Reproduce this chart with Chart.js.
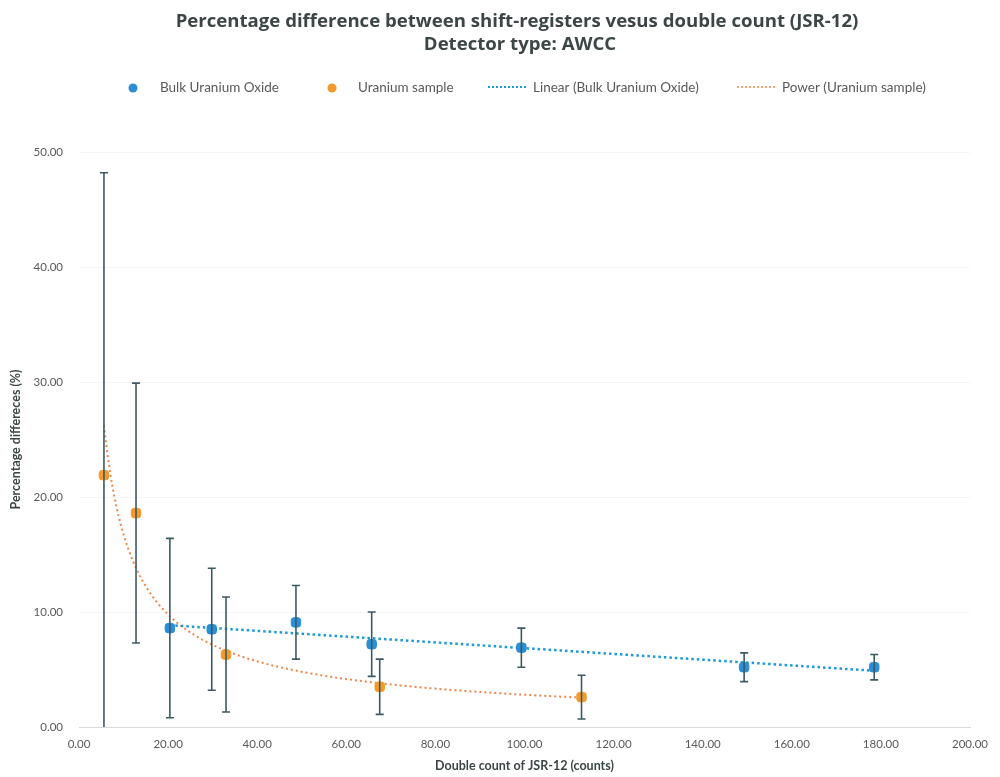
<!DOCTYPE html>
<html>
<head>
<meta charset="utf-8">
<title>Shift-register percentage difference</title>
<script src="https://cdn.jsdelivr.net/npm/chart.js@4.4.1/dist/chart.umd.min.js"></script>
<style>
  html, body { margin: 0; padding: 0; background: #ffffff; }
  #wrap { width: 1000px; height: 777px; position: relative; }
</style>
</head>
<body>
<div id="wrap"><canvas id="chart" width="1000" height="777"></canvas></div>
<script>
// Bulk uranium oxide measurements: double count vs. % difference, with ± error
const bulkX = [20.4, 29.8, 48.7, 65.7, 99.3, 149.3, 178.5];
const bulkY = [8.6, 8.5, 9.1, 7.2, 6.9, 5.2, 5.2];
const bulkErr = [7.8, 5.3, 3.2, 2.8, 1.7, 1.25, 1.1];

// Uranium sample measurements
const sampleX = [5.6, 12.8, 33.0, 67.5, 112.8];
const sampleY = [21.9, 18.6, 6.3, 3.5, 2.6];
const sampleErr = [26.3, 11.3, 5.0, 2.4, 1.9];

const seriesNames = ['Bulk Uranium Oxide', 'Uranium sample', 'Linear (Bulk Uranium Oxide)', 'Power (Uranium sample)'];
const titleLines = ['Percentage difference between shift-registers vesus double count (JSR-12)', 'Detector type: AWCC'];
const xTitle = 'Double count of JSR-12 (counts)';
const yTitle = 'Percentage differeces (%)';

const BLUE = '#2a8fd6';
const ORANGE = '#f39a2e';
const BLUE_TREND = '#1b9bd3';
const ORANGE_TREND = '#f0864a';
const ERR = '#3d5a60';
const TEXT = '#595959';
const TITLE_TEXT = '#3c4646';
const FONT = 'Lato, "Open Sans", sans-serif';
const TITLE_FONT = '"Open Sans", Lato, sans-serif';

const pts = (xs, ys) => xs.map((v, i) => ({ x: v, y: ys[i] }));

// Least-squares straight line
function linearFit(xs, ys) {
  const n = xs.length;
  const mx = xs.reduce((a, b) => a + b, 0) / n;
  const my = ys.reduce((a, b) => a + b, 0) / n;
  let sxy = 0, sxx = 0;
  for (let i = 0; i < n; i++) { sxy += (xs[i] - mx) * (ys[i] - my); sxx += (xs[i] - mx) ** 2; }
  const m = sxy / sxx;
  return v => my + m * (v - mx);
}

// Power-law fit y = a * x^k, done in log-log space
function powerFit(xs, ys) {
  const lx = xs.map(Math.log), ly = ys.map(Math.log);
  const line = linearFit(lx, ly);
  return v => Math.exp(line(Math.log(v)));
}

const linTrend = linearFit(bulkX, bulkY);
const powTrend = powerFit(sampleX, sampleY);

const bxMin = Math.min(...bulkX), bxMax = Math.max(...bulkX);
const linPoints = [bxMin, bxMax].map(v => ({ x: v, y: linTrend(v) }));

const sxMin = Math.min(...sampleX), sxMax = Math.max(...sampleX);
const powPoints = [];
for (let i = 0; i <= 150; i++) {
  const v = sxMin + (sxMax - sxMin) * i / 150;
  powPoints.push({ x: v, y: powTrend(v) });
}

// Vertical error bars with caps, drawn over the markers
const errorBars = {
  id: 'errorBars',
  afterDatasetsDraw(chart) {
    const { ctx, chartArea: ca, scales: { x, y } } = chart;
    ctx.save();
    ctx.beginPath();
    ctx.rect(ca.left, ca.top - 2, ca.right - ca.left, ca.bottom - ca.top + 2);
    ctx.clip();
    ctx.strokeStyle = ERR;
    ctx.lineWidth = 1.6;
    chart.data.datasets.forEach(ds => {
      if (!ds.errors) return;
      ds.data.forEach((p, i) => {
        const px = x.getPixelForValue(p.x);
        const top = y.getPixelForValue(p.y + ds.errors[i]);
        const bot = y.getPixelForValue(p.y - ds.errors[i]);
        ctx.beginPath();
        ctx.moveTo(px, top); ctx.lineTo(px, bot);
        ctx.moveTo(px - 4, top); ctx.lineTo(px + 4, top);
        ctx.moveTo(px - 4, bot); ctx.lineTo(px + 4, bot);
        ctx.stroke();
      });
    });
    ctx.restore();
  }
};

// Two-line heading and legend row above the plot
const header = {
  id: 'header',
  afterDraw(chart) {
    const ctx = chart.ctx;
    ctx.save();
    ctx.font = 'bold 18.6px ' + TITLE_FONT;
    ctx.fillStyle = TITLE_TEXT;
    ctx.textAlign = 'center';
    ctx.textBaseline = 'middle';
    ctx.fillText(titleLines[0], 517, 22);
    ctx.fillText(titleLines[1], 520, 45);

    const yMid = 88;
    ctx.font = '13.5px ' + FONT;
    ctx.textAlign = 'left';

    ctx.beginPath(); ctx.fillStyle = BLUE; ctx.arc(133, yMid, 4.5, 0, Math.PI * 2); ctx.fill();
    ctx.fillStyle = TEXT; ctx.fillText(seriesNames[0], 160, yMid);

    ctx.beginPath(); ctx.fillStyle = ORANGE; ctx.arc(332, yMid, 4.5, 0, Math.PI * 2); ctx.fill();
    ctx.fillStyle = TEXT; ctx.fillText(seriesNames[1], 358, yMid);

    ctx.setLineDash([2, 2]);
    ctx.lineWidth = 2;
    ctx.strokeStyle = BLUE_TREND;
    ctx.beginPath(); ctx.moveTo(488, yMid - 1); ctx.lineTo(528, yMid - 1); ctx.stroke();
    ctx.fillText(seriesNames[2], 533, yMid);

    ctx.lineWidth = 1.5;
    ctx.strokeStyle = ORANGE_TREND;
    ctx.beginPath(); ctx.moveTo(737, yMid - 1); ctx.lineTo(776, yMid - 1); ctx.stroke();
    ctx.fillText(seriesNames[3], 782, yMid);
    ctx.restore();
  }
};

new Chart(document.getElementById('chart'), {
  type: 'scatter',
  data: {
    datasets: [
      {
        label: seriesNames[0],
        data: pts(bulkX, bulkY),
        errors: bulkErr,
        backgroundColor: BLUE,
        borderColor: BLUE,
        pointStyle: 'rectRounded',
        pointRadius: 5.5,
        order: 0
      },
      {
        label: seriesNames[1],
        data: pts(sampleX, sampleY),
        errors: sampleErr,
        backgroundColor: ORANGE,
        borderColor: ORANGE,
        pointStyle: 'rectRounded',
        pointRadius: 5.5,
        order: 0
      },
      {
        type: 'line',
        label: seriesNames[2],
        data: linPoints,
        borderColor: BLUE_TREND,
        borderWidth: 2.5,
        borderDash: [2.5, 3],
        pointRadius: 0,
        fill: false,
        order: 2
      },
      {
        type: 'line',
        label: seriesNames[3],
        data: powPoints,
        borderColor: ORANGE_TREND,
        borderWidth: 2,
        borderDash: [2, 3],
        pointRadius: 0,
        fill: false,
        tension: 0,
        order: 2
      }
    ]
  },
  options: {
    responsive: false,
    animation: false,
    devicePixelRatio: 1,
    layout: { padding: { left: 0, right: 30, top: 152, bottom: 0 } },
    plugins: {
      legend: { display: false },
      tooltip: { enabled: false },
      title: { display: false }
    },
    scales: {
      x: {
        type: 'linear',
        min: 0,
        max: 200,
        ticks: {
          stepSize: 20,
          color: TEXT,
          font: { family: FONT, size: 11.5 },
          padding: 10,
          callback: v => Number(v).toFixed(2)
        },
        grid: { display: false, drawTicks: false },
        border: { display: true, color: '#d9d9d9', width: 1 },
        title: {
          display: true,
          text: xTitle,
          color: TITLE_TEXT,
          font: { family: FONT, size: 12.5, weight: 'bold' },
          padding: { top: 4, bottom: 4 }
        },
        afterFit: s => { s.height = 50; }
      },
      y: {
        type: 'linear',
        min: 0,
        max: 50,
        ticks: {
          stepSize: 10,
          color: TEXT,
          font: { family: FONT, size: 11.5 },
          padding: 16,
          callback: v => Number(v).toFixed(2)
        },
        grid: { color: 'rgba(0,0,0,0.04)', drawTicks: false },
        border: { display: false },
        title: {
          display: true,
          text: yTitle,
          color: TITLE_TEXT,
          font: { family: FONT, size: 12.5, weight: 'bold' },
          padding: { top: 8, bottom: 4 }
        },
        afterFit: s => { s.width = 79; }
      }
    }
  },
  plugins: [errorBars, header]
});
</script>
</body>
</html>
